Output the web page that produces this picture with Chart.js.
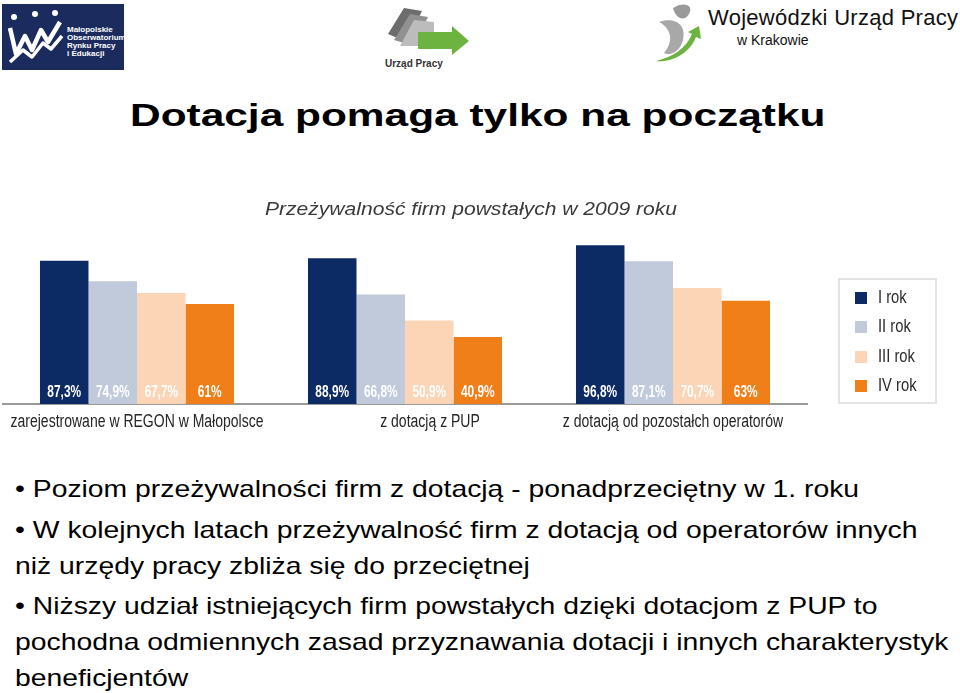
<!DOCTYPE html>
<html lang="pl">
<head>
<meta charset="UTF-8">
<title>Dotacja pomaga tylko na początku</title>
<script src="https://cdn.jsdelivr.net/npm/chart.js"></script>
<style>
  body { margin: 0; width: 960px; height: 693px; background: #fff; position: relative; overflow: hidden;
         font-family: "Liberation Sans", Arial, sans-serif; color: #000; }
  .abs { position: absolute; }
  #title { left: 130px; top: 99px; font-size: 32px; line-height: 32px; font-weight: bold; white-space: nowrap; transform-origin: 0 0; }
  #chartBox { left: 0; top: 190px; width: 960px; height: 250px; }
  #legend { left: 838px; top: 278px; width: 95px; height: 122px; border: 2px solid #e3e3e3; }
  .lg { position: absolute; left: 15px; font-size: 18px; color: #2b2b2b; line-height: 18px; white-space: nowrap; }
  .lg i { display: inline-block; width: 12px; height: 12px; margin-right: 11px; vertical-align: -1px; }
  .lg span { display: inline-block; transform: scaleX(0.82); transform-origin: 0 50%; }
  .txt { left: 15px; font-size: 24px; white-space: nowrap; line-height: 36px; transform: scaleX(1.18); transform-origin: 0 0; }
</style>
</head>
<body>

<!-- logos -->
<svg class="abs" style="left:0;top:0" width="960" height="75">
  <rect x="2" y="4" width="122" height="66" fill="#1b2b5e"/>
  <path d="M10 28 L16 54 L25 36 L32 50 L41 30 L48 42 L60 22" stroke="#fff" stroke-width="4.5" fill="none" stroke-linejoin="round"/>
  <path d="M10 62 L23 50 L32 57 L43 43 L51 49 L62 36" stroke="#fff" stroke-width="3.5" fill="none" stroke-linejoin="round"/>
  <circle cx="14" cy="17" r="3" fill="#fff"/><circle cx="35" cy="14" r="3" fill="#fff"/><circle cx="55" cy="13" r="3" fill="#fff"/>
  <g font-size="8" font-weight="bold" fill="#fff" font-family="Liberation Sans">
    <text x="67" y="32">Małopolskie</text>
    <text x="67" y="40">Obserwatorium</text>
    <text x="67" y="48">Rynku Pracy</text>
    <text x="67" y="56">i Edukacji</text>
  </g>

  <path d="M388 34 L404 8 L422 11 L407 42 Z" fill="#6d6d6d"/>
  <path d="M394 40 L410 14 L428 17 L414 46 Z" fill="#919191"/>
  <path d="M400 46 L414 20 L434 22 L434 46 Z" fill="#bcbcbc"/>
  <path d="M418 32 L452 32 L452 26 L469 41 L452 55 L452 49 L418 49 Z" fill="#6db33f"/>
  <text x="385" y="67" font-size="10" font-weight="bold" fill="#333" font-family="Liberation Sans">Urząd Pracy</text>

  <path d="M673 8 C684 1 694 5 689 14 C684 22 676 19 673 8 Z" fill="#9a9a9a"/>
  <path d="M659 22 C672 17 687 22 683 40 C681 50 671 57 664 53 C672 44 674 30 659 22 Z" fill="#a8a8a8"/>
  <path d="M656 61 C672 63 690 53 696 37 L701 39 L699 26 L688 32 L692 34 C686 49 672 57 656 61 Z" fill="#6db33f"/>
  <text x="708" y="25" font-size="22" fill="#111" font-family="Liberation Sans" textLength="250">Wojewódzki Urząd Pracy</text>
  <text x="737" y="45" font-size="14" fill="#111" font-family="Liberation Sans">w Krakowie</text>
</svg>

<div id="title" class="abs">Dotacja pomaga tylko na początku</div>

<div id="chartBox" class="abs"><canvas id="chart"></canvas></div>
<div id="legend" class="abs"></div>

<div class="abs txt" style="top:471px">• Poziom przeżywalności firm z dotacją - ponadprzeciętny w 1. roku</div>
<div class="abs txt" style="top:512px">• W kolejnych latach przeżywalność firm z dotacją od operatorów innych<br>niż urzędy pracy zbliża się do przeciętnej</div>
<div class="abs txt" style="top:588px">• Niższy udział istniejących firm powstałych dzięki dotacjom z PUP to<br>pochodna odmiennych zasad przyznawania dotacji i innych charakterystyk<br>beneficjentów</div>

<script>
const categories = ['zarejestrowane w REGON w Małopolsce', 'z dotacją z PUP', 'z dotacją od pozostałch operatorów'];
const seriesNames = ['I rok', 'II rok', 'III rok', 'IV rok'];
const rok1 = [87.3, 88.9, 96.8];
const rok2 = [74.9, 66.8, 87.1];
const rok3 = [67.7, 50.9, 70.7];
const rok4 = [61, 40.9, 63];
const colors = ['#0c2a63', '#c0cadb', '#fbd5b6', '#f07f1a'];
const chartTitle = 'Przeżywalność firm powstałych w 2009 roku';

// the slide image is stretched sideways, so fit the title to its width
const t = document.getElementById('title');
t.style.transform = 'scaleX(' + (696 / t.offsetWidth) + ')';

// legend
const lg = document.getElementById('legend');
seriesNames.forEach((n, i) => {
  const d = document.createElement('div');
  d.className = 'lg';
  d.style.top = (8 + i * 29.3) + 'px';
  d.innerHTML = '<i style="background:' + colors[i] + '"></i><span>' + n + '</span>';
  lg.appendChild(d);
});

// condensed look: draw text squeezed horizontally
function narrowText(ctx, txt, x, y, sx) {
  ctx.save();
  ctx.translate(x, y);
  ctx.scale(sx, 1);
  ctx.fillText(txt, 0, 0);
  ctx.restore();
}

const labelShift = [0, 25, 0]; // second caption sits a bit right of its group in the original

const decorations = {
  id: 'decorations',
  afterDatasetsDraw(chart) {
    const ctx = chart.ctx;
    ctx.save();
    ctx.textAlign = 'center';
    ctx.textBaseline = 'middle';

    // values inside the bars
    ctx.font = 'bold 17px "Liberation Sans", Arial, sans-serif';
    ctx.fillStyle = '#fff';
    chart.data.datasets.forEach((ds, i) => {
      chart.getDatasetMeta(i).data.forEach((bar, j) => {
        const txt = String(ds.data[j]).replace('.', ',') + '%';
        narrowText(ctx, txt, bar.x, bar.base - 12, 0.7);
      });
    });

    // category captions under the axis
    const xs = chart.scales.x;
    ctx.font = '18px "Liberation Sans", Arial, sans-serif';
    ctx.fillStyle = '#262626';
    const sx = 253 / ctx.measureText(categories[0]).width;
    categories.forEach((c, i) => {
      narrowText(ctx, c, xs.getPixelForTick(i) + labelShift[i], chart.chartArea.bottom + 18, sx);
    });

    // chart caption
    ctx.font = 'italic 19px "Liberation Sans", Arial, sans-serif';
    ctx.fillStyle = '#3a3a3a';
    narrowText(ctx, chartTitle, 471, 20, 412 / ctx.measureText(chartTitle).width);
    ctx.restore();
  }
};

new Chart(document.getElementById('chart'), {
  type: 'bar',
  data: {
    labels: categories,
    datasets: [rok1, rok2, rok3, rok4].map((d, i) => ({
      label: seriesNames[i],
      data: d,
      backgroundColor: colors[i],
      barPercentage: 1,
      categoryPercentage: 0.724
    }))
  },
  options: {
    responsive: true,
    maintainAspectRatio: false,
    animation: false,
    layout: { padding: { left: 3, right: 153, top: 50, bottom: 36 } },
    plugins: { legend: { display: false }, tooltip: { enabled: false }, title: { display: false } },
    scales: {
      x: {
        grid: { display: false, drawTicks: false },
        border: { color: '#9a9a9a', width: 2 },
        ticks: { display: false }
      },
      y: { display: false, min: 0, max: 100 }
    }
  },
  plugins: [decorations]
});
</script>
</body>
</html>
